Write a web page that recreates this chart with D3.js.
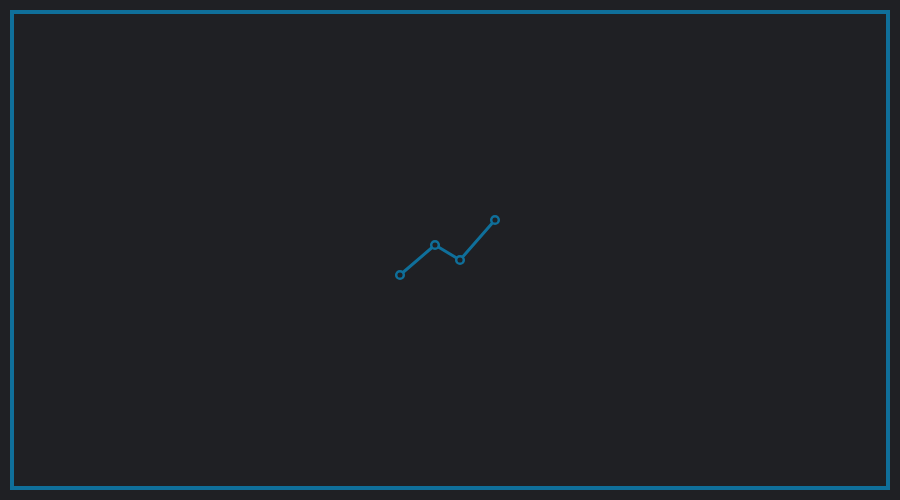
<!DOCTYPE html>
<html><head><meta charset="utf-8">
<script src="https://cdn.jsdelivr.net/npm/d3@7"></script>
<style>html,body{margin:0;padding:0;background:#1f2024;}</style>
</head><body>
<svg id="c" width="900" height="500"></svg>
<script>
const xValues = [0, 7, 12, 19];
const yValues = [0, 6, 3, 11];
const color = "#0f6f9a";
const svg = d3.select("#c");
svg.append("rect").attr("width",900).attr("height",500).attr("fill","#1f2024");
svg.append("rect").attr("x",12).attr("y",12).attr("width",876).attr("height",476)
  .attr("fill","none").attr("stroke",color).attr("stroke-width",4);
const x = d3.scaleLinear().domain([0,19]).range([400,495]);
const y = d3.scaleLinear().domain([0,11]).range([275,220]);
const data = xValues.map((v,i)=>({x:v,y:yValues[i]}));
svg.append("path").datum(data).attr("fill","none").attr("stroke",color)
  .attr("stroke-width",3).attr("stroke-linejoin","round")
  .attr("d", d3.line().x(d=>x(d.x)).y(d=>y(d.y)));
svg.selectAll("circle.p").data(data).join("circle").attr("class","p")
  .attr("cx",d=>x(d.x)).attr("cy",d=>y(d.y)).attr("r",3.8)
  .attr("fill","#1f2024").attr("stroke",color).attr("stroke-width",2.5);
</script>
</body></html>
